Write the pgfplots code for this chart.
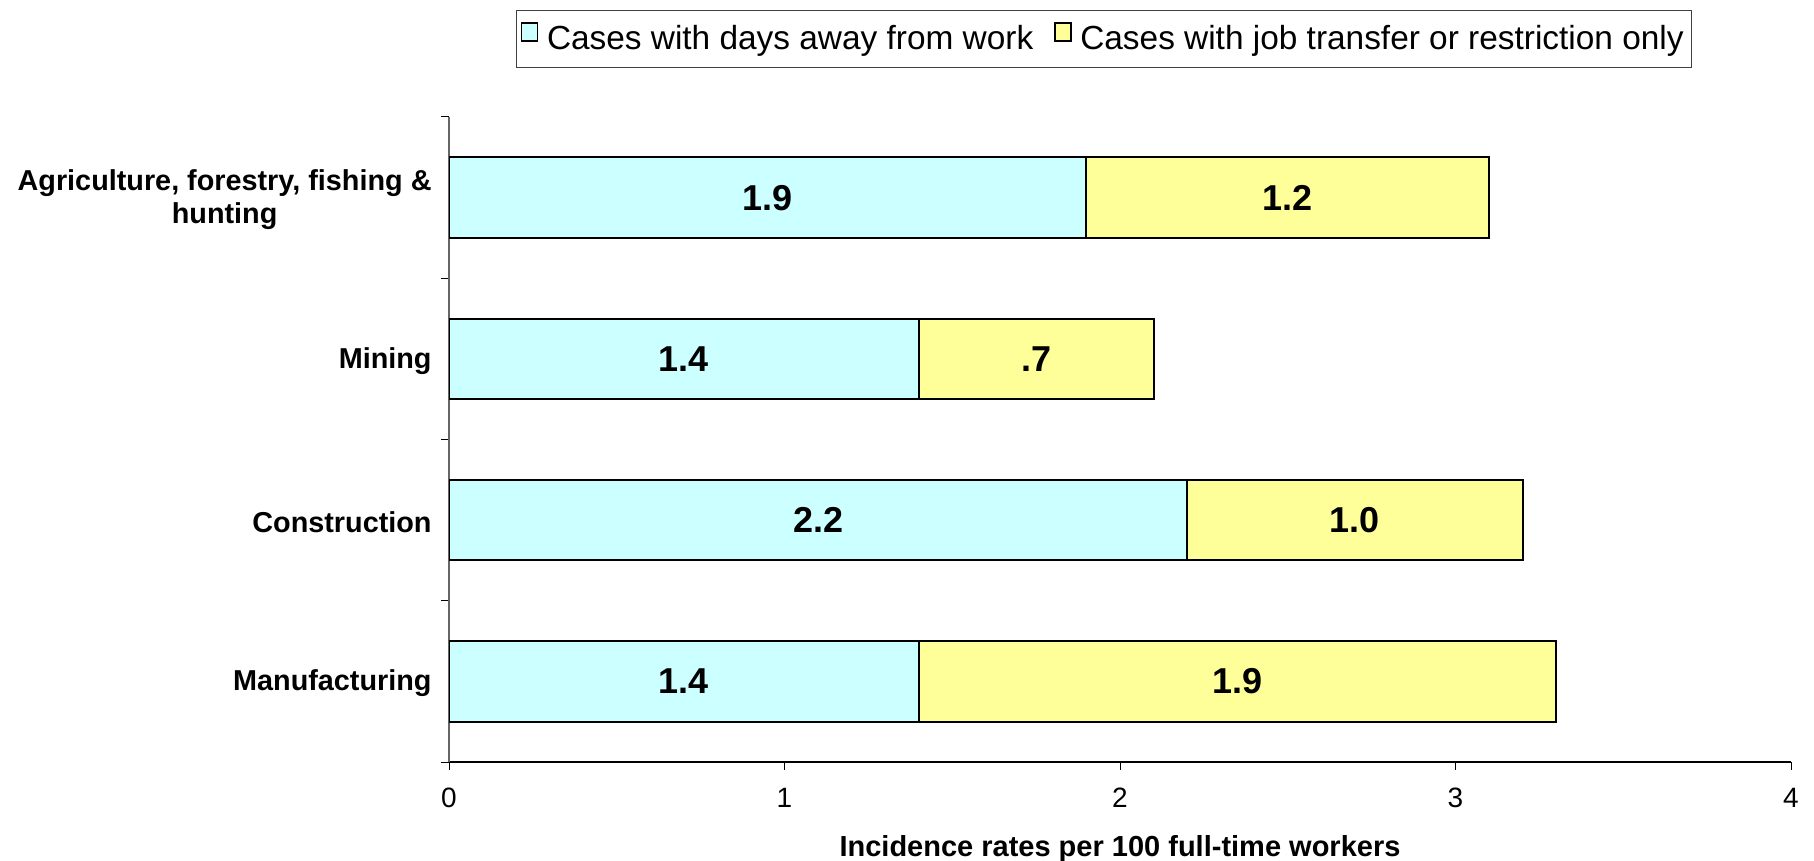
\documentclass[border=0pt]{standalone}
\usepackage{pgfplots}
\pgfplotsset{compat=1.18}
\usepackage{fontspec}
\setmainfont{Liberation Sans}
\definecolor{cyanfill}{HTML}{CCFFFF}
\definecolor{yellowfill}{HTML}{FFFF99}
\begin{document}
\begin{tikzpicture}
\path[use as bounding box] (0,0) rectangle (907bp,430.5bp);
\begin{axis}[
  at={(224.5bp,49.5bp)}, anchor=south west,
  scale only axis, width=671bp, height=322.5bp,
  xbar stacked, bar width=0.5,
  xmin=0, xmax=4, ymin=-0.5, ymax=3.5,
  axis x line*=bottom, axis y line*=left,
  axis line style={-},
  x axis line style={black, line width=0.8bp},
  y axis line style={black!60, line width=0.6bp},
  xtick={0,1,2,3,4},
  ytick={-0.5,0.5,1.5,2.5,3.5},
  y tick label as interval,
  yticklabels={Manufacturing, Construction, Mining, {Agriculture, forestry, fishing \&\\hunting}},
  tick align=outside,
  major tick length=4bp,
  tick style={black, line width=0.5bp},
  /pgf/number format/assume math mode=true,
  xticklabel style={font=\fontsize{14bp}{16bp}\selectfont, anchor=center, yshift=-14bp},
  yticklabel style={font=\bfseries\fontsize{14.4bp}{16.8bp}\selectfont, align=center, anchor=east, xshift=-1.2bp, yshift=-1bp},
  xlabel={Incidence rates per 100 full-time workers},
  xlabel style={font=\bfseries\fontsize{14.5bp}{16bp}\selectfont, at={(axis description cs:0.5,0)}, anchor=center, yshift=-43.5bp},
  legend style={at={(axis description cs:0.488,1)}, anchor=north, yshift=53.5bp,
    legend columns=2, draw=black!75, line width=0.6bp,
    inner xsep=2bp, inner ysep=5.5bp,
    nodes={inner xsep=1.8bp},
    font=\fontsize{16.7bp}{18bp}\selectfont,
    /tikz/every even column/.append style={column sep=8.5bp}},
  legend image code/.code={\draw[#1, draw=black, line width=0.8bp] (0bp,-1bp) rectangle (8bp,8bp); \path (10.5bp,0bp);},
  nodes near coords, point meta=explicit symbolic,
  every node near coord/.append style={font=\bfseries\fontsize{18bp}{19bp}\selectfont, black, anchor=center},
]
\addplot[fill=cyanfill, draw=black, line width=1bp] table[x=x, y=y, meta=label] {
x y label
1.4 0 1.4
2.2 1 2.2
1.4 2 1.4
1.9 3 1.9
};
\addlegendentry{Cases with days away from work}
\addplot[fill=yellowfill, draw=black, line width=1bp] table[x=x, y=y, meta=label] {
x y label
1.9 0 1.9
1.0 1 1.0
0.7 2 .7
1.2 3 1.2
};
\addlegendentry{Cases with job transfer or restriction only\hspace{1.5bp}}
\end{axis}
\end{tikzpicture}
\end{document}
